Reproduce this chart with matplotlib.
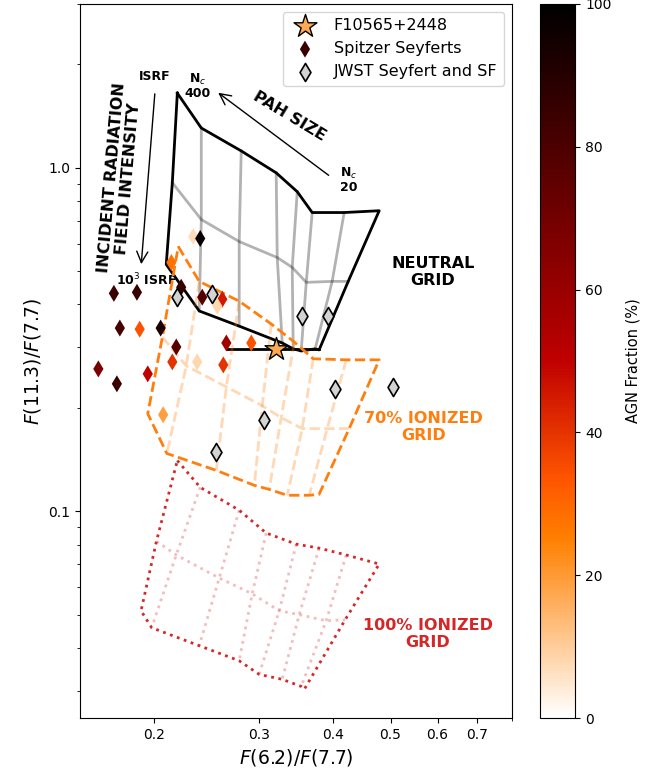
import numpy as np
import matplotlib
matplotlib.use("Agg")
import matplotlib.pyplot as plt
from matplotlib.colors import Normalize
from matplotlib.ticker import NullFormatter, FixedLocator, FixedFormatter

# ---- PAH model grids: rows = radiation field (ISRF -> 10^3 ISRF),
# ---- columns = PAH size (N_c = 400 -> 20)
neutral_x = np.array([
    [0.2187, 0.2400, 0.2802, 0.3209, 0.3482, 0.3690, 0.4177, 0.4785],
    [0.2145, 0.2400, 0.2780, 0.3222, 0.3415, 0.3606, 0.3987, 0.4243],
    [0.2095, 0.2381, 0.2780, 0.3285, 0.3428, 0.3536, 0.3733, 0.3790],
])
neutral_y = np.array([
    [1.650, 1.306, 1.120, 0.967, 0.852, 0.741, 0.741, 0.750],
    [0.905, 0.707, 0.610, 0.548, 0.513, 0.464, 0.467, 0.467],
    [0.523, 0.383, 0.346, 0.309, 0.297, 0.293, 0.297, 0.295],
])
neutral_floor_x = [0.2654, 0.3790]
neutral_floor_y = [0.2968, 0.2968]

ion70_x = np.array([
    [0.2195, 0.2381, 0.2780, 0.3148, 0.3442, 0.3704, 0.4210, 0.4785],
    [0.2064, 0.2264, 0.2645, 0.3040, 0.3272, 0.3550, 0.3911, 0.4259],
    [0.1950, 0.2100, 0.2544, 0.2948, 0.3123, 0.3350, 0.3648, 0.3790],
])
ion70_y = np.array([
    [0.590, 0.467, 0.409, 0.351, 0.311, 0.278, 0.276, 0.276],
    [0.3215, 0.265, 0.2303, 0.2029, 0.1873, 0.174, 0.174, 0.174],
    [0.1923, 0.1473, 0.1315, 0.1190, 0.1158, 0.1113, 0.1113, 0.1120],
])

ion100_x = np.array([
    [0.2187, 0.2390, 0.2780, 0.3087, 0.3469, 0.3790, 0.4210, 0.4785],
    [0.2017, 0.2178, 0.2573, 0.2924, 0.3247, 0.3509, 0.3896, 0.4193],
    [0.1900, 0.1980, 0.2381, 0.2780, 0.3004, 0.3285, 0.3536, 0.3578],
])
ion100_y = np.array([
    [0.1405, 0.1174, 0.1007, 0.0864, 0.0802, 0.0781, 0.0746, 0.0702],
    [0.0818, 0.0746, 0.0639, 0.0575, 0.0513, 0.0500, 0.0480, 0.0483],
    [0.0513, 0.0458, 0.0406, 0.0367, 0.0335, 0.0324, 0.0309, 0.0303],
])

# ---- Observed galaxies
spitzer_x = [0.171, 0.187, 0.175, 0.189, 0.205, 0.2178, 0.2145, 0.2362, 0.2614, 0.2645, 0.2914,
             0.161, 0.173, 0.195, 0.222, 0.2409, 0.2604, 0.2554, 0.2137, 0.2326, 0.2390, 0.207]
spitzer_y = [0.431, 0.434, 0.3415, 0.339, 0.3415, 0.3008, 0.2722, 0.2722, 0.2668, 0.309, 0.309,
             0.2597, 0.235, 0.2512, 0.449, 0.420, 0.4144, 0.3955, 0.530, 0.631, 0.6225, 0.191]
spitzer_agn = [85, 85, 82, 34, 92, 77, 40, 8, 40, 58, 34,
               68, 85, 50, 85, 77, 45, 8, 28, 7, 98, 19]

jwst_x = [0.2187, 0.2504, 0.3550, 0.3926, 0.4034, 0.5052, 0.3063, 0.2544]
jwst_y = [0.420, 0.428, 0.370, 0.370, 0.2273, 0.2303, 0.1848, 0.1483]

target_name = "F10565+2448"
target_x = [0.3209]
target_y = [0.2968]
target_agn = [17]

x_ticks = [0.2, 0.3, 0.4, 0.5, 0.6, 0.7]
y_ticks = [0.1, 1.0]

cmap = plt.get_cmap("gist_heat_r")
norm = Normalize(vmin=0, vmax=100)


def outline(gx, gy):
    xs = np.concatenate([gx[0, :], gx[1:, -1], gx[-1, -2::-1], gx[-2::-1, 0]])
    ys = np.concatenate([gy[0, :], gy[1:, -1], gy[-1, -2::-1], gy[-2::-1, 0]])
    return xs, ys


def draw_grid(ax, gx, gy, edge_color, inner_color, ls, inner_alpha):
    for r in range(1, gx.shape[0] - 1):
        ax.plot(gx[r], gy[r], color=inner_color, ls=ls, lw=2, alpha=inner_alpha, zorder=2)
    for c in range(1, gx.shape[1] - 1):
        ax.plot(gx[:, c], gy[:, c], color=inner_color, ls=ls, lw=2, alpha=inner_alpha, zorder=2)
    xs, ys = outline(gx, gy)
    ax.plot(xs, ys, color=edge_color, ls=ls, lw=2, zorder=2)


fig = plt.figure(figsize=(6.62, 7.78), dpi=100)
ax = fig.add_axes([0.121, 0.0771, 0.652, 0.9178])
cax = fig.add_axes([0.816, 0.0771, 0.053, 0.9178])

ax.set_xscale("log")
ax.set_yscale("log")

draw_grid(ax, neutral_x, neutral_y, "black", "black", "-", 0.3)
ax.plot(neutral_floor_x, neutral_floor_y, color="black", lw=2, zorder=2)
draw_grid(ax, ion70_x, ion70_y, "tab:orange", "tab:orange", "--", 0.3)
draw_grid(ax, ion100_x, ion100_y, "tab:red", "tab:red", ":", 0.3)

sc = ax.scatter(target_x, target_y, c=target_agn, cmap=cmap, norm=norm, marker="*", s=300,
                edgecolors="black", linewidths=1, zorder=6, label=target_name)
sp = ax.scatter(spitzer_x, spitzer_y, c=spitzer_agn, cmap=cmap, norm=norm, marker="d", s=75,
                linewidths=0, zorder=4, label="Spitzer Seyferts")
jw = ax.scatter(jwst_x, jwst_y, color="lightgray", marker="d", s=85, edgecolors="black",
                linewidths=1.2, zorder=5, label="JWST Seyfert and SF")

ax.set_xlim(0.15, 0.8)
ax.set_ylim(0.025, 3)

ax.xaxis.set_major_locator(FixedLocator(x_ticks))
ax.xaxis.set_major_formatter(FixedFormatter([f"{t:g}" for t in x_ticks]))
ax.xaxis.set_minor_formatter(NullFormatter())
ax.yaxis.set_major_locator(FixedLocator(y_ticks))
ax.yaxis.set_major_formatter(FixedFormatter([f"{t:.1f}" for t in y_ticks]))
ax.yaxis.set_minor_formatter(NullFormatter())
ax.tick_params(labelsize=10)

ax.set_xlabel(r"$F(6.2)/F(7.7)$", fontsize=13.5)
ax.set_ylabel(r"$F(11.3)/F(7.7)$", fontsize=13.5)

# ---- Grid annotations
T = ax.transAxes
ax.text(0.1736, 0.8978, "ISRF", transform=T, ha="center", va="center", fontsize=9, fontweight="bold")
ax.annotate("", xy=(0.1412, 0.6317), xytext=(0.1736, 0.878), xycoords=T, textcoords=T,
            arrowprops=dict(arrowstyle="->", lw=1, color="black", mutation_scale=20))
ax.text(0.1528, 0.6134, r"10$^3$ ISRF", transform=T, ha="center", va="center", fontsize=9,
        fontweight="bold", zorder=1)
ax.text(0.0926, 0.7563, "INCIDENT RADIATION\nFIELD INTENSITY", transform=T, ha="center", va="center",
        fontsize=11.5, fontweight="bold", rotation=85, rotation_mode="anchor", linespacing=1.1)
ax.text(0.2731, 0.885, "N$_c$\n400", transform=T, ha="center", va="center", fontsize=9,
        fontweight="bold", linespacing=1.0)
ax.text(0.6227, 0.7535, "N$_c$\n20", transform=T, ha="center", va="center", fontsize=9,
        fontweight="bold", linespacing=1.0)
ax.text(0.486, 0.843, "PAH SIZE", transform=T, ha="center", va="center", fontsize=11.5,
        fontweight="bold", rotation=-31, rotation_mode="anchor")
ax.annotate("", xy=(0.3148, 0.878), xytext=(0.581, 0.7577), xycoords=T, textcoords=T,
            arrowprops=dict(arrowstyle="->", lw=1, color="black", mutation_scale=20))
ax.text(0.8171, 0.6246, "NEUTRAL\nGRID", transform=T, ha="center", va="center", fontsize=11.5,
        fontweight="bold", linespacing=1.1)
ax.text(0.7963, 0.4076, "70% IONIZED\nGRID", transform=T, ha="center", va="center", fontsize=11.5,
        fontweight="bold", color="tab:orange", linespacing=1.1)
ax.text(0.8056, 0.1176, "100% IONIZED\nGRID", transform=T, ha="center", va="center", fontsize=11.5,
        fontweight="bold", color="tab:red", linespacing=1.1)

ax.legend(loc="upper right", fontsize=11.5)

cb = fig.colorbar(sp, cax=cax)
cb.set_ticks([0, 20, 40, 60, 80, 100])
cb.ax.tick_params(labelsize=10)
cb.set_label("AGN Fraction (%)", fontsize=10.5, labelpad=10)

fig.savefig("out.png", dpi=100)
